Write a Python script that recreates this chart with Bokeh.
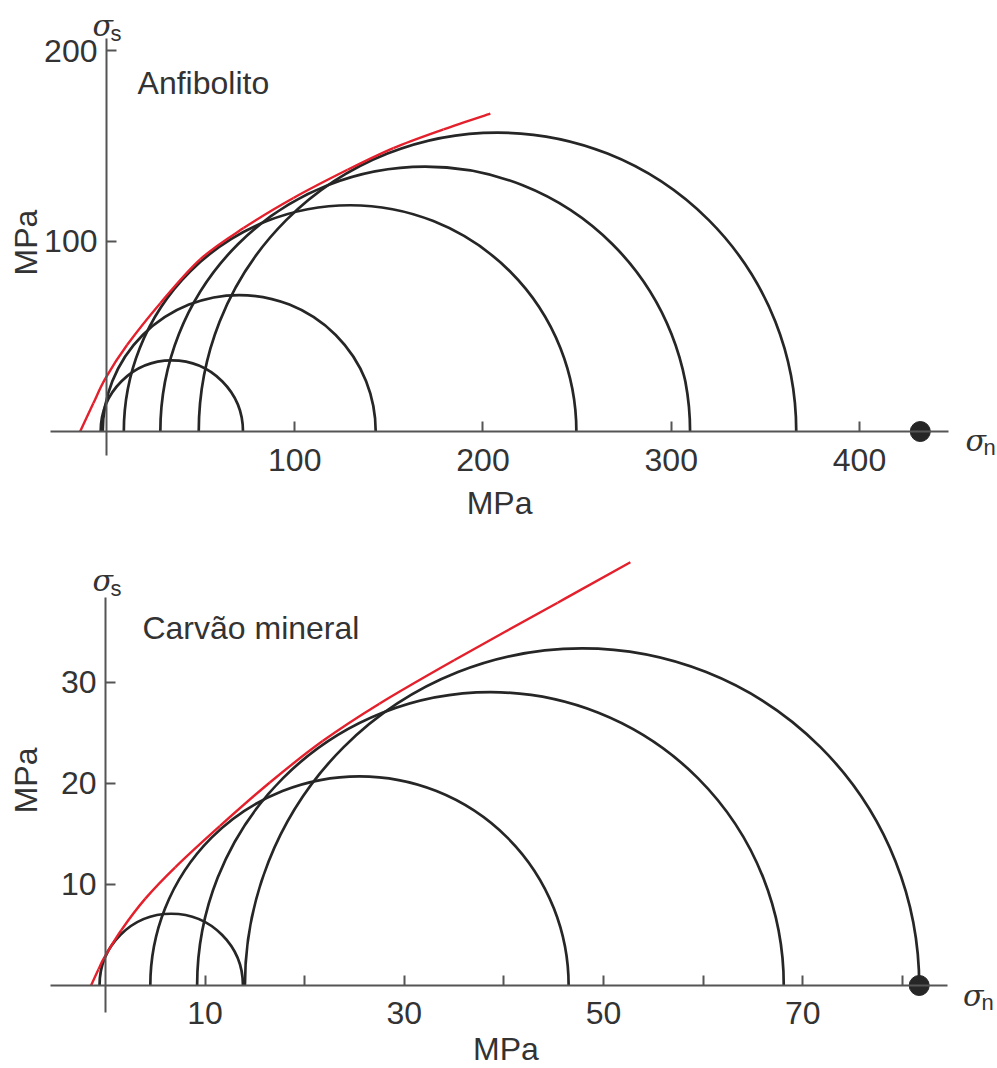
import numpy as np
from bokeh.plotting import figure
from bokeh.layouts import column
from bokeh.models import Label, FixedTicker, Range1d
from bokeh.embed import file_html
from bokeh.resources import INLINE

# ---------------- data: Anfibolito ----------------
anf_centers = [34.7, 70.5, 129.4, 169.3, 207.7]
anf_radii = [37.8, 72.5, 120.2, 140.7, 158.7]
anf_env_sn = [-14.0, -7.0, -0.5, 11.0, 28.7, 49.9, 72.8, 99.3, 128.0, 152.4, 179.0, 203.9]
anf_env_ss = [0.0, 14.8, 28.0, 45.5, 67.5, 90.5, 106.8, 122.6, 137.4, 148.8, 158.6, 166.9]
anf_point = [432.3]
anf_xticks = [100, 200, 300, 400]
anf_yticks = [100, 200]

# ---------------- data: Carvão mineral ----------------
car_centers = [6.6, 25.5, 38.65, 47.85]
car_radii = [7.2, 21.0, 29.45, 33.85]
car_env_sn = [-1.45, -0.7, -0.1, 1.6, 4.0, 7.0, 11.5, 16.5, 21.8, 27.5, 35.0, 45.4, 52.7]
car_env_ss = [0.0, 1.6, 2.8, 5.5, 8.6, 11.7, 15.8, 20.1, 24.2, 27.9, 32.2, 37.9, 41.9]
car_point = [81.7]
car_xticks = [10, 20, 30, 40, 50, 60, 70, 80]
car_xlabels = {10: "10", 20: "", 30: "30", 40: "", 50: "50", 60: "", 70: "70", 80: ""}
car_yticks = [10, 20, 30]

FONT = "Liberation Sans"
SERIF = "DejaVu Serif"
TXT = "#333333"
AX = "#555555"
CIRC = "#262626"
RED = "#e3202b"
FS = "32px"


def smooth_curve(p, xs, ys, **kw):
    """Draw a smooth (Catmull-Rom) curve through the read points."""
    x = np.asarray(xs, float)
    y = np.asarray(ys, float)
    xp = np.concatenate([[x[0]], x, [x[-1]]])
    yp = np.concatenate([[y[0]], y, [y[-1]]])
    n = len(x) - 1
    x0, y0 = x[:-1], y[:-1]
    x1, y1 = x[1:], y[1:]
    cx0 = x0 + (xp[2:n + 2] - xp[0:n]) / 6.0
    cy0 = y0 + (yp[2:n + 2] - yp[0:n]) / 6.0
    cx1 = x1 - (xp[3:n + 3] - xp[1:n + 1]) / 6.0
    cy1 = y1 - (yp[3:n + 3] - yp[1:n + 1]) / 6.0
    p.bezier(x0=x0, y0=y0, x1=x1, y1=y1, cx0=cx0, cy0=cy0, cx1=cx1, cy1=cy1, **kw)


def make_panel(width, height, xr, yr, xb, yb, xticks, yticks, centers, radii,
               env_sn, env_ss, point, xlabels=None):
    p = figure(width=width, height=height, x_range=Range1d(*xr), y_range=Range1d(*yr),
               output_backend="svg", toolbar_location=None, title=None, min_border=0)
    p.outline_line_color = None
    p.grid.visible = False
    for ax in (p.xaxis[0], p.yaxis[0]):
        ax.fixed_location = 0
        ax.axis_line_color = AX
        ax.axis_line_width = 2
        ax.major_tick_line_color = AX
        ax.major_tick_line_width = 2
        ax.major_tick_in = 10
        ax.major_tick_out = 0
        ax.minor_tick_line_color = None
        ax.major_label_text_font = FONT
        ax.major_label_text_font_size = FS
        ax.major_label_text_color = TXT
    p.xaxis[0].bounds = xb
    p.yaxis[0].bounds = yb
    p.xaxis[0].ticker = FixedTicker(ticks=xticks)
    p.yaxis[0].ticker = FixedTicker(ticks=yticks)
    p.xaxis[0].major_label_standoff = 17
    p.yaxis[0].major_label_standoff = 9
    if xlabels is not None:
        p.xaxis[0].major_label_overrides = xlabels

    p.arc(x=centers, y=[0] * len(centers), radius=radii, start_angle=0, end_angle=np.pi,
          line_color=CIRC, line_width=2.7)
    smooth_curve(p, env_sn, env_ss, line_color=RED, line_width=2.4)
    p.scatter(point, [0], size=20, color=CIRC)
    return p


def add_text(p, x, y, text, size=FS, font=FONT, style="normal", align="left",
             baseline="alphabetic", angle=0.0):
    p.add_layout(Label(x=x, y=y, text=text, text_font=font, text_font_size=size,
                       text_font_style=style, text_color=TXT, text_align=align,
                       text_baseline=baseline, angle=angle))


# top panel (page y 0..533)
p1 = make_panel(997, 533, (-56.31, 473.31), (-53.54, 226.25), (-29.7, 447.2), (-12.6, 206.3),
                anf_xticks, anf_yticks, anf_centers, anf_radii, anf_env_sn, anf_env_ss, anf_point)
add_text(p1, 16.5, 182.7, "Anfibolito")
add_text(p1, 208.8, -37.3, "MPa", align="center", baseline="middle")
add_text(p1, -43.0, 99.2, "MPa", align="center", baseline="middle", angle=np.pi / 2)
add_text(p1, -7.44, 213.1, "σ", size="30px", font=SERIF, style="italic")
add_text(p1, 2.12, 208.9, "s", size="22px")
add_text(p1, 456.3, -4.7, "σ", size="30px", font=SERIF, style="italic")
add_text(p1, 465.9, -8.4, "n", size="22px")

# bottom panel (page y 533..1068)
p2 = make_panel(997, 535, (-10.542, 89.56), (-8.218, 44.75), (-5.52, 84.54), (-2.67, 38.4),
                car_xticks, car_yticks, car_centers, car_radii, car_env_sn, car_env_ss, car_point,
                xlabels=car_xlabels)
add_text(p2, 3.71, 35.4, "Carvão mineral")
add_text(p2, 40.2, -6.24, "MPa", align="center", baseline="middle")
add_text(p2, -8.03, 20.3, "MPa", align="center", baseline="middle", angle=np.pi / 2)
add_text(p2, -1.31, 40.1, "σ", size="30px", font=SERIF, style="italic")
add_text(p2, 0.5, 39.3, "s", size="22px")
add_text(p2, 86.1, -0.99, "σ", size="30px", font=SERIF, style="italic")
add_text(p2, 87.95, -1.68, "n", size="22px")

layout = column(p1, p2)
open("out.html", "w").write(file_html(layout, INLINE))
